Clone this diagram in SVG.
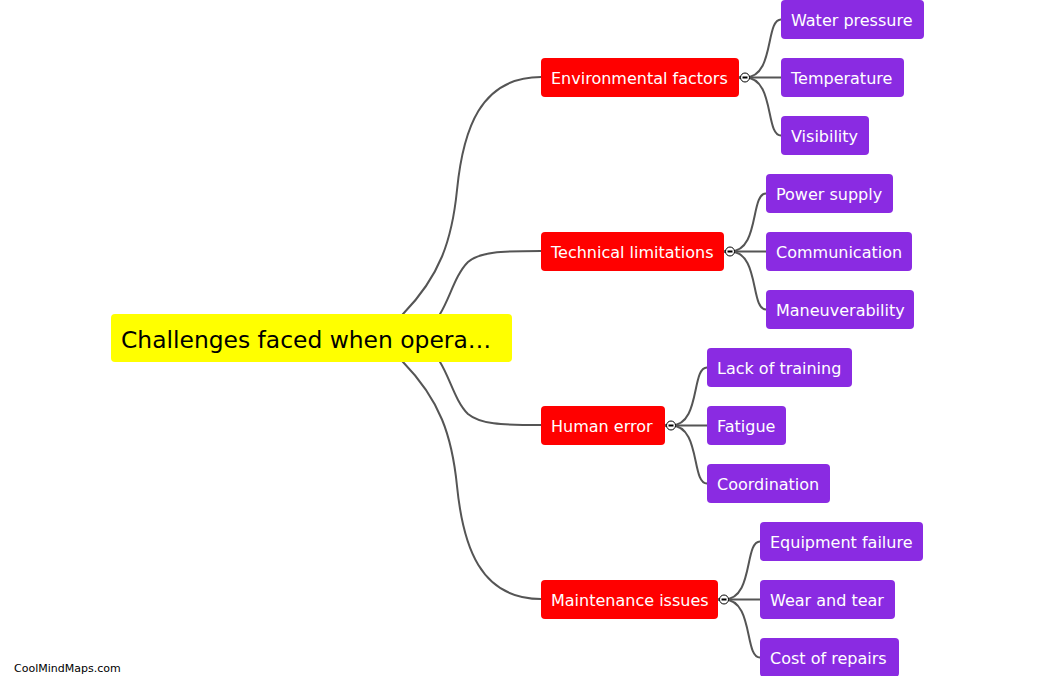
<svg xmlns="http://www.w3.org/2000/svg" width="1047" height="676" viewBox="0 0 1047 676">
<style>
  text { font-family: "DejaVu Sans", Verdana, sans-serif; }
  .root rect { fill: #ffff00; }
  .root text { font-size: 23.4px; fill: #000000; }
  .main rect { fill: #ff0000; }
  .sub rect { fill: #8a2be2; }
  .main text, .sub text { font-size: 16px; fill: #ffffff; }
  .links path { fill: none; stroke: #555555; stroke-width: 2; }
  .toggle circle { fill: #ffffff; stroke: #000000; stroke-width: 1; }
  .toggle line { stroke: #000000; stroke-width: 2; }
  .brand { font-size: 11px; fill: #000000; }
</style>
<rect width="1047" height="676" fill="#ffffff"/>

<g id="connectors" class="links">
  <!-- root to main -->
  <path d="M 395 324 L 403 314 C 440 276, 452 240, 457 190 C 463 130, 480 77, 541 77"/>
  <path d="M 434 324 L 440 314 C 450 298, 455 275, 468 262 C 480 252, 500 251, 541 251"/>
  <path d="M 434 352 L 440 362 C 450 378, 455 401, 468 414 C 480 424, 500 425, 541 425"/>
  <path d="M 395 352 L 403 362 C 440 400, 452 436, 457 486 C 463 546, 480 599, 541 599"/>
  <!-- Environmental factors children -->
  <path d="M 739 77.5 L 745 77.5 C 775 77.5, 765 19.5, 781 19.5"/>
  <path d="M 739 77.5 L 781 77.5"/>
  <path d="M 739 77.5 L 745 77.5 C 775 77.5, 765 135.5, 781 135.5"/>
  <!-- Technical limitations children -->
  <path d="M 724 251.5 L 730 251.5 C 760 251.5, 750 193.5, 766 193.5"/>
  <path d="M 724 251.5 L 766 251.5"/>
  <path d="M 724 251.5 L 730 251.5 C 760 251.5, 750 309.5, 766 309.5"/>
  <!-- Human error children -->
  <path d="M 665 425.5 L 671 425.5 C 701 425.5, 691 367.5, 707 367.5"/>
  <path d="M 665 425.5 L 707 425.5"/>
  <path d="M 665 425.5 L 671 425.5 C 701 425.5, 691 483.5, 707 483.5"/>
  <!-- Maintenance issues children -->
  <path d="M 718 599.5 L 724 599.5 C 754 599.5, 744 541.5, 760 541.5"/>
  <path d="M 718 599.5 L 760 599.5"/>
  <path d="M 718 599.5 L 724 599.5 C 754 599.5, 744 657.5, 760 657.5"/>
</g>

<g id="root" class="root">
  <rect x="111" y="314" width="401" height="48" rx="4"/>
  <text x="121" y="348">Challenges faced when opera…</text>
</g>

<g id="n-env" class="main">
  <rect x="541" y="58" width="198" height="39" rx="4"/>
  <text x="551" y="84">Environmental factors</text>
  <g class="toggle"><circle cx="745" cy="77.5" r="4.5"/><line x1="742.5" y1="77.5" x2="747.5" y2="77.5"/></g>
</g>
<g id="n-tech" class="main">
  <rect x="541" y="232" width="183" height="39" rx="4"/>
  <text x="551" y="258">Technical limitations</text>
  <g class="toggle"><circle cx="730" cy="251.5" r="4.5"/><line x1="727.5" y1="251.5" x2="732.5" y2="251.5"/></g>
</g>
<g id="n-human" class="main">
  <rect x="541" y="406" width="124" height="39" rx="4"/>
  <text x="551" y="432">Human error</text>
  <g class="toggle"><circle cx="671" cy="425.5" r="4.5"/><line x1="668.5" y1="425.5" x2="673.5" y2="425.5"/></g>
</g>
<g id="n-maint" class="main">
  <rect x="541" y="580" width="177" height="39" rx="4"/>
  <text x="551" y="606">Maintenance issues</text>
  <g class="toggle"><circle cx="724" cy="599.5" r="4.5"/><line x1="721.5" y1="599.5" x2="726.5" y2="599.5"/></g>
</g>

<g id="n-water" class="sub"><rect x="781" y="0" width="143" height="39" rx="4"/><text x="791" y="26">Water pressure</text></g>
<g id="n-temp" class="sub"><rect x="781" y="58" width="123" height="39" rx="4"/><text x="791" y="84">Temperature</text></g>
<g id="n-vis" class="sub"><rect x="781" y="116" width="88" height="39" rx="4"/><text x="791" y="142">Visibility</text></g>

<g id="n-power" class="sub"><rect x="766" y="174" width="127" height="39" rx="4"/><text x="776" y="200">Power supply</text></g>
<g id="n-comm" class="sub"><rect x="766" y="232" width="146" height="39" rx="4"/><text x="776" y="258">Communication</text></g>
<g id="n-man" class="sub"><rect x="766" y="290" width="148" height="39" rx="4"/><text x="776" y="316">Maneuverability</text></g>

<g id="n-train" class="sub"><rect x="707" y="348" width="145" height="39" rx="4"/><text x="717" y="374">Lack of training</text></g>
<g id="n-fatigue" class="sub"><rect x="707" y="406" width="79" height="39" rx="4"/><text x="717" y="432">Fatigue</text></g>
<g id="n-coord" class="sub"><rect x="707" y="464" width="123" height="39" rx="4"/><text x="717" y="490">Coordination</text></g>

<g id="n-equip" class="sub"><rect x="760" y="522" width="163" height="39" rx="4"/><text x="770" y="548">Equipment failure</text></g>
<g id="n-wear" class="sub"><rect x="760" y="580" width="135" height="39" rx="4"/><text x="770" y="606">Wear and tear</text></g>
<g id="n-cost" class="sub"><rect x="760" y="638" width="139" height="39" rx="4"/><text x="770" y="664">Cost of repairs</text></g>

<text class="brand" x="14" y="672">CoolMindMaps.com</text>
</svg>
